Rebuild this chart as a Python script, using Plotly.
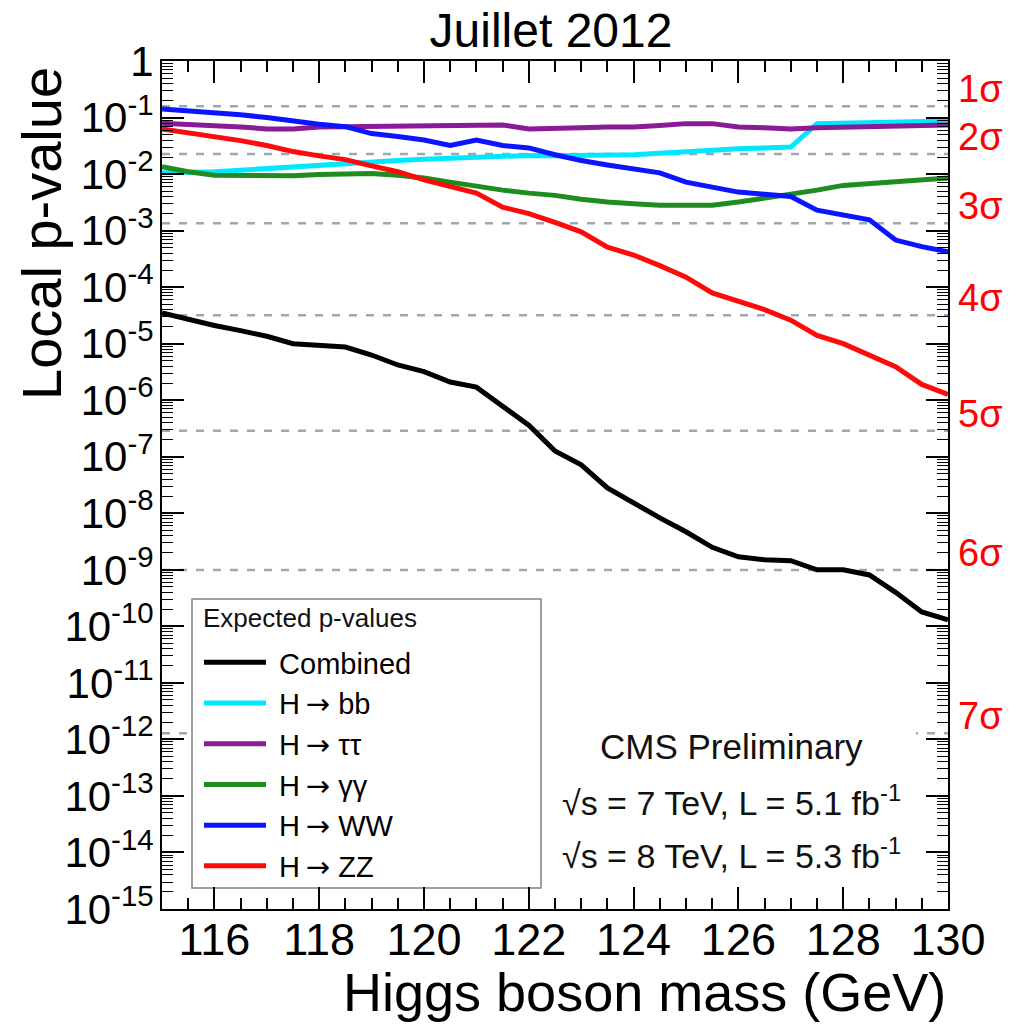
import math
import plotly.graph_objects as go

# ---------------- data ----------------
mass = [115.0, 115.5, 116.0, 116.5, 117.0, 117.5, 118.0, 118.5, 119.0, 119.5,
        120.0, 120.5, 121.0, 121.5, 122.0, 122.5, 123.0, 123.5, 124.0, 124.5,
        125.0, 125.5, 126.0, 126.5, 127.0, 127.5, 128.0, 128.5, 129.0, 129.5, 130.0]

p_combined = [3.5e-5, 2.7e-5, 2.1e-5, 1.7e-5, 1.35e-5, 1.0e-5, 9.5e-6, 8.7e-6, 6.3e-6, 4.2e-6,
              3.2e-6, 2.1e-6, 1.7e-6, 7.6e-7, 3.6e-7, 1.26e-7, 7.2e-8, 2.8e-8, 1.5e-8, 8.3e-9,
              4.7e-9, 2.5e-9, 1.7e-9, 1.5e-9, 1.45e-9, 1.0e-9, 1.0e-9, 8.1e-10, 4.0e-10, 1.8e-10, 1.3e-10]

p_bb = [0.0105, 0.0107, 0.011, 0.0117, 0.0126, 0.0135, 0.0145, 0.0155, 0.0162, 0.0174,
        0.0182, 0.019, 0.020, 0.021, 0.0214, 0.021, 0.021, 0.0214, 0.022, 0.0234,
        0.025, 0.027, 0.028, 0.029, 0.030, 0.078, 0.079, 0.081, 0.083, 0.085, 0.087]

p_tautau = [0.079, 0.076, 0.074, 0.068, 0.063, 0.063, 0.068, 0.069, 0.071, 0.071,
            0.071, 0.071, 0.072, 0.074, 0.063, 0.063, 0.066, 0.068, 0.068, 0.072,
            0.078, 0.078, 0.068, 0.066, 0.063, 0.066, 0.068, 0.069, 0.071, 0.072, 0.074]

p_gamgam = [0.0135, 0.011, 0.0095, 0.0093, 0.0093, 0.0093, 0.0098, 0.0102, 0.0102, 0.0095,
            0.0085, 0.0072, 0.006, 0.0052, 0.0046, 0.0042, 0.0036, 0.0032, 0.0030, 0.0028,
            0.0028, 0.0028, 0.0032, 0.0037, 0.0044, 0.0052, 0.0063, 0.0068, 0.0074, 0.0079, 0.0085]

p_ww = [0.141, 0.132, 0.12, 0.112, 0.1, 0.085, 0.076, 0.069, 0.052, 0.046,
        0.04, 0.032, 0.04, 0.032, 0.029, 0.022, 0.0174, 0.0145, 0.0123, 0.0105,
        0.0072, 0.006, 0.0048, 0.0044, 0.004, 0.0023, 0.0019, 0.00155, 0.00068, 0.00052, 0.00042]

p_zz = [6.3e-2, 5.4e-2, 4.6e-2, 3.9e-2, 3.2e-2, 2.5e-2, 2.1e-2, 1.8e-2, 1.4e-2, 1.1e-2,
        7.9e-3, 6.0e-3, 4.6e-3, 2.6e-3, 2.0e-3, 1.4e-3, 9.5e-4, 5.1e-4, 3.7e-4, 2.4e-4,
        1.5e-4, 7.9e-5, 5.6e-5, 4.0e-5, 2.6e-5, 1.4e-5, 1.0e-5, 6.3e-6, 3.9e-6, 1.9e-6, 1.26e-6]

NB = "\u00a0"
ARROW = '\u2009<span style="font-family:DejaVu Sans">→</span>'
series_names = [NB + "Combined", NB + "H" + ARROW + " bb", NB + "H" + ARROW + " ττ",
                NB + "H" + ARROW + " γγ", NB + "H" + ARROW + " WW", NB + "H" + ARROW + " ZZ"]
series_values = [p_combined, p_bb, p_tautau, p_gamgam, p_ww, p_zz]
series_colors = ["#000000", "#00e8ff", "#8a1a96", "#1e8c1e", "#0a14ff", "#ff0a0a"]
legend_title = "Expected p-values"

sigma_labels = ["1σ", "2σ", "3σ", "4σ", "5σ", "6σ", "7σ"]
sigma_pvalues = [0.1587, 0.02275, 1.35e-3, 3.17e-5, 2.87e-7, 9.87e-10, 1.28e-12]

x_tick_vals = [116, 118, 120, 122, 124, 126, 128, 130]
y_exponents = list(range(0, -16, -1))
y_tick_vals = [10.0 ** e for e in y_exponents]
y_tick_text = ["1" if e == 0 else "10<sup>%d</sup>" % e for e in y_exponents]
y_minor_vals = [k * 10.0 ** e for e in range(-15, 0) for k in range(2, 10)]

FONT = "Liberation Sans, Arial, Helvetica, sans-serif"

# plot-area geometry (px)
L, R, T, B = 162, 69, 61, 116
W, H = 1017, 1025
PW, PH = W - L - R, H - T - B


def px_x(x):
    return (x - L) / PW


def px_y(y):
    return (H - B - y) / PH


# ---------------- figure ----------------
fig = go.Figure()

for name, vals, col in zip(series_names, series_values, series_colors):
    fig.add_trace(go.Scatter(x=mass, y=vals, mode="lines", name=name,
                             line=dict(color=col, width=5)))

# sigma reference lines
for p in sigma_pvalues:
    fig.add_shape(type="line", xref="paper", x0=0, x1=1, yref="y", y0=p, y1=p,
                  line=dict(color="#9aa9b3", width=2.5, dash="8px,9px"), layer="below")

# white pave behind the CMS text
fig.add_shape(type="rect", xref="paper", yref="paper", x0=px_x(541), x1=px_x(916),
              y0=px_y(885), y1=px_y(716), fillcolor="white", line=dict(width=0), layer="below")

# legend frame
fig.add_shape(type="rect", xref="paper", yref="paper", x0=px_x(192), x1=px_x(541),
              y0=px_y(888), y1=px_y(599), fillcolor="white",
              line=dict(color="#808080", width=1.5), layer="below")
fig.add_annotation(text=legend_title, xref="paper", x=px_x(201), xanchor="left",
                   yref="paper", y=px_y(618), yanchor="middle", showarrow=False,
                   font=dict(family=FONT, size=26, color="#111"))

# sigma labels on the right
for lab, p in zip(sigma_labels, sigma_pvalues):
    fig.add_annotation(text=lab, xref="paper", x=1.0, xanchor="left", xshift=8,
                       yref="y", y=math.log10(p), yanchor="middle", yshift=17,
                       showarrow=False, font=dict(family=FONT, size=38, color="#ff0000"))

# CMS text
cms_lines = ["CMS Preliminary",
             "√s = 7 TeV, L = 5.1 fb<sup>-1</sup>",
             "√s = 8 TeV, L = 5.3 fb<sup>-1</sup>"]
cms_ypx = [746, 800, 853]
cms_size = [35, 34, 34]
for t, yy, sz in zip(cms_lines, cms_ypx, cms_size):
    fig.add_annotation(text=t, xref="paper", x=px_x(731), xanchor="center",
                       yref="paper", y=px_y(yy), yanchor="middle", showarrow=False,
                       font=dict(family=FONT, size=sz, color="#111"))

# axis titles as annotations
fig.add_annotation(text="Local p-value", textangle=-90, xref="paper", x=px_x(42),
                   xanchor="center", yref="paper", y=px_y(234), yanchor="middle",
                   showarrow=False, font=dict(family=FONT, size=56, color="black"))
fig.add_annotation(text="Higgs boson mass (GeV)", xref="paper", x=1.0, xanchor="right",
                   yref="paper", y=px_y(992), yanchor="middle",
                   showarrow=False, font=dict(family=FONT, size=54, color="black"))

fig.update_layout(
    width=W, height=H,
    margin=dict(l=L, r=R, t=T, b=B, autoexpand=False),
    paper_bgcolor="white", plot_bgcolor="white",
    font=dict(family=FONT, color="black"),
    title=dict(text="Juillet 2012", x=551 / W, xanchor="center", xref="container",
               y=1 - 30 / H, yanchor="middle", yref="container",
               font=dict(family=FONT, size=48, color="black")),
    showlegend=True,
    legend=dict(x=px_x(199), xanchor="left", y=px_y(637), yanchor="top",
                bgcolor="rgba(0,0,0,0)", borderwidth=0,
                font=dict(family=FONT, size=29), itemwidth=62, tracegroupgap=0),
    xaxis=dict(range=[115, 130], showgrid=False, zeroline=False, automargin=False,
               showline=True, linecolor="black", linewidth=2, mirror="ticks",
               tickmode="array", tickvals=x_tick_vals, ticks="inside", ticklen=22, tickwidth=1.5,
               tickcolor="black", tickfont=dict(family=FONT, size=45), ticklabelstandoff=-10,
               minor=dict(dtick=0.5, tick0=115, ticks="inside", ticklen=11, tickwidth=1.5,
                          tickcolor="black", showgrid=False)),
    yaxis=dict(type="log", range=[-15, 0], showgrid=False, zeroline=False, automargin=False,
               showline=True, linecolor="black", linewidth=2, mirror="ticks",
               tickmode="array", tickvals=y_tick_vals, ticktext=y_tick_text,
               ticks="inside", ticklen=22, tickwidth=1.5, tickcolor="black",
               tickfont=dict(family=FONT, size=42), ticklabelstandoff=-2,
               minor=dict(tickmode="array", tickvals=y_minor_vals, ticks="inside", ticklen=11,
                          tickwidth=1, tickcolor="black", showgrid=False)),
)

fig.write_html("out.html", config={"displayModeBar": False},
               post_script="document.body.style.margin='0';")
